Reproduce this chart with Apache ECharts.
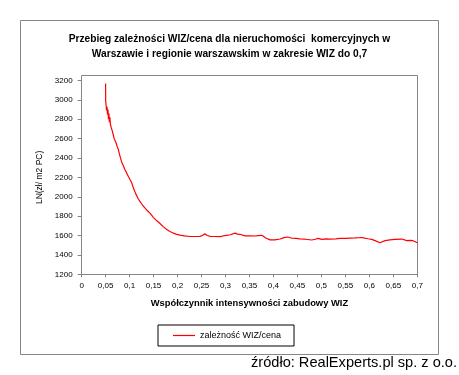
<!DOCTYPE html>
<html><head><meta charset="utf-8">
<script src="https://cdn.jsdelivr.net/npm/echarts@6/dist/echarts.min.js"></script>
<style>html,body{margin:0;padding:0;background:#fff}#c{width:459px;height:375px}</style>
</head><body><div id="c"></div>
<script>
const titleText = 'Przebieg zależności WIZ/cena dla nieruchomości  komercyjnych w\nWarszawie i regionie warszawskim w zakresie WIZ do 0,7';
const xAxisName = 'Współczynnik intensywności zabudowy WIZ';
const yAxisName = 'LN(zł/ m2 PC)';
const seriesName = 'zależność WIZ/cena';
const sourceText = 'źródło: RealExperts.pl sp. z o.o.';
const xTickLabels = ['0','0,05','0,1','0,15','0,2','0,25','0,3','0,35','0,4','0,45','0,5','0,55','0,6','0,65','0,7'];
const yTickLabels = ['1200','1400','1600','1800','2000','2200','2400','2600','2800','3000','3200'];
const wiz = [0.050,0.0502,0.051,0.052,0.053,0.054,0.055,0.056,0.057,0.058,0.059,0.060,0.061,0.062,0.063,0.064,0.065,0.066,0.067,0.068,0.070,0.072,0.074,0.0765,0.080,0.0835,0.087,0.090,0.094,0.098,0.1045,0.108,0.113,0.118,0.122,0.127,0.132,0.137,0.143,0.150,0.157,0.164,0.170,0.177,0.184,0.190,0.197,0.205,0.215,0.226,0.236,0.247,0.252,0.257,0.262,0.268,0.278,0.289,0.299,0.310,0.320,0.325,0.330,0.341,0.352,0.362,0.369,0.376,0.384,0.393,0.403,0.414,0.422,0.430,0.439,0.447,0.455,0.466,0.480,0.487,0.493,0.501,0.510,0.518,0.530,0.539,0.550,0.560,0.570,0.578,0.585,0.597,0.605,0.612,0.622,0.633,0.643,0.653,0.668,0.678,0.685,0.691,0.700];
const price = [3170,2990,2950,2890,2930,2850,2900,2800,2860,2770,2820,2750,2770,2710,2700,2680,2660,2640,2650,2600,2590,2555,2520,2490,2420,2360,2320,2285,2245,2205,2145,2090,2030,1980,1950,1915,1885,1858,1828,1785,1752,1722,1692,1665,1642,1628,1615,1605,1596,1590,1590,1592,1600,1618,1600,1592,1590,1588,1600,1608,1625,1615,1613,1596,1598,1595,1600,1603,1575,1555,1556,1564,1578,1585,1572,1570,1565,1562,1554,1562,1571,1560,1565,1564,1566,1571,1570,1573,1575,1577,1578,1567,1560,1547,1526,1547,1555,1560,1564,1547,1550,1547,1526];

const FONT = 'Liberation Sans';
const chart = echarts.init(document.getElementById('c'), null, {renderer:'canvas'});
chart.setOption({
  animation: false,
  backgroundColor: '#fff',
  title: {
    text: titleText, left: 'center', top: 26,
    textStyle: {fontFamily: FONT, fontSize: 10.2, fontWeight: 'bold', color: '#000', lineHeight: 15.5}
  },
  grid: {left: 81.6, right: 41.7, top: 80.5, bottom: 100.7},
  graphic: [
    {type: 'rect', shape: {x: 20.5, y: 20.5, width: 418, height: 334}, style: {fill: 'none', stroke: '#868686', lineWidth: 1}, z: 0},
    {type: 'rect', shape: {x: 81.5, y: 75.5, width: 336, height: 199}, style: {fill: 'none', stroke: '#868686', lineWidth: 1}, z: 1},
    {type: 'text', left: 251, top: 355, style: {text: sourceText, fontFamily: FONT, fontSize: 14.6, fill: '#000'}}
  ],
  legend: {
    left: 158, top: 325, width: 142,
    data: [{name: seriesName, icon: 'rect'}],
    itemWidth: 22, itemHeight: 1.2, itemGap: 5,
    borderColor: '#000', borderWidth: 1, borderRadius: 0,
    padding: [5, 13, 5, 15],
    textStyle: {fontFamily: FONT, fontSize: 9, color: '#000', lineHeight: 11}
  },
  xAxis: {
    type: 'value', min: 0, max: 0.7, interval: 0.05,
    name: xAxisName, nameLocation: 'middle', nameGap: 25,
    nameTextStyle: {fontFamily: FONT, fontSize: 9.4, fontWeight: 'bold', color: '#000'},
    axisLine: {lineStyle: {color: '#868686', width: 1}},
    axisTick: {show: true, length: 3, lineStyle: {color: '#868686'}},
    splitLine: {show: false},
    axisLabel: {fontFamily: FONT, fontSize: 8, color: '#000', margin: 7,
      formatter: v => xTickLabels[Math.round(v / 0.05)]}
  },
  yAxis: {
    type: 'value', min: 1200, max: 3200, interval: 200,
    name: yAxisName, nameLocation: 'middle', nameGap: 36.6, nameRotate: 90,
    nameTextStyle: {fontFamily: FONT, fontSize: 8.5, color: '#000'},
    axisLine: {show: true, lineStyle: {color: '#868686', width: 1}},
    axisTick: {show: true, length: 4, lineStyle: {color: '#868686'}},
    splitLine: {show: false},
    axisLabel: {fontFamily: FONT, fontSize: 8, color: '#000', margin: 9,
      formatter: v => yTickLabels[Math.round((v - 1200) / 200)]}
  },
  series: [{
    name: seriesName, type: 'line', showSymbol: false, symbol: 'none',
    data: wiz.map((w, i) => [w, price[i]]),
    lineStyle: {color: '#ff0000', width: 1.2}, itemStyle: {color: '#ff0000'}
  }]
});
</script></body></html>
